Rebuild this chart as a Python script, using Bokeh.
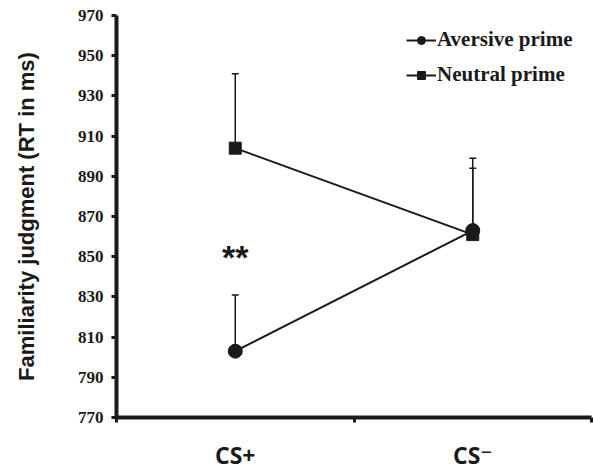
from bokeh.plotting import figure
from bokeh.models import (Range1d, FixedTicker, Whisker, TeeHead, ColumnDataSource,
                          Legend, LegendItem, Label)
from bokeh.embed import file_html
from bokeh.resources import INLINE

categories = ["CS+", "CS\u207B"]
cat_pos = [0.5, 1.5]
aversive = [803, 863]
aversive_se = [28, 36]
neutral = [904, 861]
neutral_se = [37, 33]
y_ticks = [770, 790, 810, 830, 850, 870, 890, 910, 930, 950, 970]

INK = "#1a1a1a"

p = figure(width=593, height=473, output_backend="svg", toolbar_location=None,
           x_range=Range1d(0, 2), y_range=Range1d(770, 970),
           min_border_left=116, min_border_right=2, min_border_top=15, min_border_bottom=56)
p.outline_line_color = None
p.grid.visible = False

# axes
p.xaxis.ticker = FixedTicker(ticks=cat_pos, minor_ticks=[0, 1, 2])
p.xaxis.major_label_overrides = {0.5: categories[0], 1.5: categories[1]}
p.xaxis.major_tick_out = 0
p.xaxis.major_tick_in = 0
p.xaxis.minor_tick_out = 5
p.xaxis.minor_tick_in = 0
p.xaxis.minor_tick_line_width = 3
p.xaxis.minor_tick_line_color = INK
p.xaxis.axis_line_width = 4
p.xaxis.axis_line_color = INK
p.xaxis.major_label_text_font = "'Open Sans', 'DejaVu Sans'"
p.xaxis.major_label_text_font_style = "bold"
p.xaxis.major_label_text_font_size = "23px"
p.xaxis.major_label_text_color = INK
p.xaxis.major_label_standoff = 16

p.yaxis.ticker = FixedTicker(ticks=y_ticks)
p.yaxis.minor_tick_line_color = None
p.yaxis.major_tick_out = 5
p.yaxis.major_tick_in = 0
p.yaxis.major_tick_line_width = 3
p.yaxis.major_tick_line_color = INK
p.yaxis.axis_line_width = 4
p.yaxis.axis_line_color = INK
p.yaxis.major_label_text_font = "Liberation Serif"
p.yaxis.major_label_text_font_style = "bold"
p.yaxis.major_label_text_font_size = "17px"
p.yaxis.major_label_text_color = INK
p.yaxis.major_label_standoff = 8
p.yaxis.axis_label = "Familiarity judgment (RT in ms)"
p.yaxis.axis_label_text_font = "Liberation Sans"
p.yaxis.axis_label_text_font_style = "bold"
p.yaxis.axis_label_text_font_size = "22px"
p.yaxis.axis_label_text_color = INK
p.yaxis.axis_label_standoff = 36

# error bars (upward only)
for vals, se in ((aversive, aversive_se), (neutral, neutral_se)):
    src = ColumnDataSource(dict(x=cat_pos, base=vals, upper=[v + s for v, s in zip(vals, se)]))
    w = Whisker(source=src, base="x", upper="upper", lower="base", dimension="height",
                line_width=1.5, line_color=INK,
                upper_head=TeeHead(size=7, line_width=1.5, line_color=INK),
                lower_head=None)
    p.add_layout(w)

l1 = p.line(cat_pos, aversive, line_width=2, line_color=INK)
s1 = p.scatter(cat_pos, aversive, marker="circle", size=14, fill_color=INK, line_color=INK)
l2 = p.line(cat_pos, neutral, line_width=2, line_color=INK)
s2 = p.scatter(cat_pos, neutral, marker="square", size=12, fill_color=INK, line_color=INK)

legend = Legend(items=[LegendItem(label="Aversive prime", renderers=[l1, s1]),
                       LegendItem(label="Neutral prime", renderers=[l2, s2])],
                location=(290, 330))
legend.background_fill_alpha = 0
legend.border_line_color = None
legend.label_text_font = "Liberation Serif"
legend.label_text_font_style = "bold"
legend.label_text_font_size = "21px"
legend.label_text_color = INK
legend.glyph_width = 30
legend.label_standoff = 1
legend.spacing = 10
legend.padding = 0
legend.margin = 0
p.add_layout(legend)

star = Label(x=0.5, y=850, text="**", text_font="Liberation Sans", text_font_style="bold",
             text_font_size="34px", text_align="center", text_baseline="middle",
             text_color=INK)
p.add_layout(star)

open("out.html", "w").write(file_html(p, INLINE))
